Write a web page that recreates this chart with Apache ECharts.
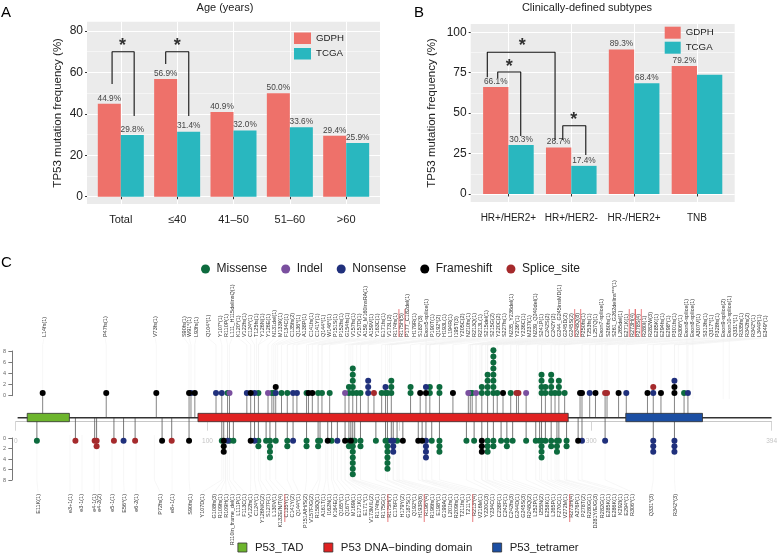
<!DOCTYPE html>
<html>
<head>
<meta charset="utf-8">
<style>
  html, body { margin: 0; padding: 0; background: #fff; }
  #chart { width: 780px; height: 555px; }
</style>
<script src="https://cdn.jsdelivr.net/npm/echarts@6/dist/echarts.min.js"></script>
</head>
<body>
<div id="chart"></div>
<script>
  const ageCategories = ['Total', '≤40', '41–50', '51–60', '>60']
  const ageGdph = [44.9, 56.9, 40.9, 50.0, 29.4]
  const ageTcga = [29.8, 31.4, 32.0, 33.6, 25.9]
  const ageTicks = [0, 20, 40, 60, 80]
  const ageMinorTicks = [10, 30, 50, 70]
  // bracket paths in axis units, star = [x, y]
  const ageBrackets = [
    { path: [[0.845, 54.4], [0.845, 70], [1.237, 70], [1.237, 39]], star: [1.03, 72.8] },
    { path: [[1.797, 64.1], [1.797, 70], [2.206, 70], [2.206, 39]], star: [2.0, 72.8] }
  ]

  const subtypeCategories = ['HR+/HER2+', 'HR+/HER2-', 'HR-/HER2+', 'TNB']
  const subtypeGdph = [66.1, 28.7, 89.3, 79.2]
  const subtypeTcga = [30.3, 17.4, 68.4, 73.8]
  const subtypeTcgaNoLabel = [3]
  const subtypeTicks = [0, 25, 50, 75, 100]
  const subtypeMinorTicks = [12.5, 37.5, 62.5, 87.5]
  const subtypeBrackets = [
    { path: [[0.664, 72.2], [0.664, 87.6], [1.742, 87.6], [1.742, 33.4]], star: [1.221, 91.6] },
    { path: [[0.83, 71.7], [0.83, 75.4], [1.196, 75.4], [1.196, 35.9]], star: [1.013, 78.8] },
    { path: [[1.865, 33.4], [1.865, 42.2], [2.231, 42.2], [2.231, 24.1]], star: [2.04, 45.8] }
  ]

  // lollipops: [residue, stack of types from the backbone outwards]
  // M missense, I indel, N nonsense, F frameshift, S splice site
  const topStacks = [
    [14, 'F'], [47, 'F'], [73, 'F'], [90, 'F'], [91, 'N'], [93, 'F'], [104, 'N'], [107, 'N'], [110, 'M'], [111, 'I'],
    [120, 'N'], [122, 'F'], [124, 'N'], [126, 'M'], [131, 'I'], [133, 'M'], [134, 'M'], [135, 'NF'], [138, 'M'],
    [141, 'M'], [144, 'N'], [146, 'N'], [151, 'M'], [152, 'F'], [154, 'F'], [157, 'M'], [159, 'M'], [163, 'M'],
    [171, 'I'], [173, 'MM'], [175, 'MMMMM'], [177, 'M'], [179, 'M'], [183, 'NNN'], [186, 'S'], [190, 'M'], [192, 'MN'],
    [193, 'M'], [195, 'MMM'], [205, 'MM'], [210, 'F'], [213, 'FN'], [215, 'MM'], [220, 'MM'], [227, 'F'], [235, 'I'],
    [236, 'M'], [237, 'M'], [239, 'I'], [242, 'MM'], [245, 'MMMM'], [248, 'MMMMMMMM'], [250, 'M'], [253, 'F'],
    [257, 'M'], [260, 'S'], [261, 'S'], [265, 'I'], [273, 'MMMM'], [275, 'MM'], [278, 'MMMM'], [280, 'M'], [282, 'MMM'],
    [285, 'M'], [293, 'F'], [294, 'F'], [298, 'N'], [301, 'F'], [306, 'S'], [307, 'S'], [313, 'F'], [317, 'N'],
    [328, 'F'], [331, 'NS'], [335, 'F'], [342, 'FFN'], [347, 'M'], [349, 'N']
  ]
  const bottomStacks = [
    [11, 'M'], [31, 'S'], [41, 'S'], [42, 'SS'], [51, 'S'], [56, 'N'], [62, 'S'], [76, 'F'], [81, 'S'], [90, 'F'],
    [107, 'M'], [108, 'FFF'], [110, 'N'], [111, 'M'], [113, 'M'], [122, 'F'], [124, 'N'], [126, 'MM'], [130, 'M'],
    [132, 'MMMM'], [135, 'M'], [141, 'MM'], [144, 'N'], [151, 'MM'], [157, 'MM'], [158, 'M'], [162, 'F'], [164, 'M'],
    [167, 'N'], [171, 'F'], [173, 'MM'], [174, 'F'], [175, 'MMMMMMM'], [176, 'M'], [179, 'MM'], [187, 'M'], [192, 'M'],
    [193, 'MMMMMM'], [195, 'N'], [196, 'NNN'], [198, 'M'], [201, 'F'], [209, 'F'], [211, 'F'], [213, 'NNNN'], [216, 'M'],
    [220, 'MMM'], [234, 'M'], [238, 'M'], [242, 'FFF'], [245, 'MMM'], [248, 'MM'], [252, 'M'], [255, 'MM'], [258, 'M'],
    [265, 'M'], [270, 'M'], [272, 'M'], [273, 'MMMM'], [275, 'M'], [278, 'MM'], [281, 'MMM'], [282, 'M'], [286, 'MM'],
    [292, 'F'], [294, 'N'], [306, 'N'], [331, 'NNN'], [342, 'NNN']
  ]
  const mutationTypes = [
    { code: 'M', name: 'Missense', color: '#0d6b3e' },
    { code: 'I', name: 'Indel', color: '#7a4f9f' },
    { code: 'N', name: 'Nonsense', color: '#20307c' },
    { code: 'F', name: 'Frameshift', color: '#000000' },
    { code: 'S', name: 'Splice_site', color: '#a52a2c' }
  ]

  const topLabels = [
    'L14fs(1)', 'P47fs(1)', 'V73fs(1)', 'S90fs(1)', 'W91*(1)', 'L93fs(1)', 'Q104*(1)',
    'Y107*(1)', 'R110P(1)', 'L111_H115delinsQ(1)', 'K120*(1)', 'V122fs(1)', 'C124*(1)', 'T125fs(1)', 'Y126N(1)',
    'Y126E(1)', 'N131del(1)', 'M133K(1)', 'F134C(1)', 'C135fs(2)', 'Q136*(1)', 'A138P(1)', 'C141fs(1)', 'C141Y(1)',
    'Q144*(1)', 'W146*(1)', 'P151S(1)', 'P152fs(1)', 'G154fs(1)', 'V157fs(1)', 'V157D(1)', 'A159_M160insRA(1)',
    'A159V(1)', 'Y163C(1)', 'E171fs(1)', 'V173L(2)', 'R174fs(1)', 'R175H(5)', 'P177_C182del(1)', 'H179R(1)', 'S183*(3)',
    'Exon5-splice(1)', 'P190T(1)', 'Q192*(2)', 'H193L(1)', 'L194R(1)', 'I195T(3)', 'Y205C(2)', 'N210fs(1)', 'R213Q(1)',
    'R213L(1)', 'S215del(1)', 'S215G(2)', 'Y220C(2)', 'S227fs(1)', 'N235_Y236del(1)', 'Y236*(1)', 'Y236C(1)', 'M237I(1)',
    'N239_Q240del(1)', 'S241P(1)', 'C242S(2)', 'C242Y(2)', 'G244_G245insMD(1)', 'G245D(2)', 'G245S(2)', 'R248Q(8)',
    'P250fs(1)', 'T253fs(1)', 'L257Q(1)', 'Exon7-splice(1)', 'S260fs(1)', 'S261_G262delins***(1)', 'L265del(1)',
    'E271K(1)', 'R273H(4)', 'P278S(4)', 'R280I(1)', 'R282W(3)', 'E285K(1)', 'E294fs(1)', 'E298*(1)', 'P301fs(1)',
    'R306*(1)', 'Exon8-splice(1)', 'Exon8-splice(1)', 'A307V(1)', 'S313fs(1)', 'Q317*(1)', 'P328fs(1)',
    'Exon9-splice(2)', 'Exon10-splice(1)', 'Q331*(1)', 'R335fs(1)', 'R342fs(2)', 'R342*(1)', 'L344P(1)', 'E349*(1)'
  ]
  const topHotLabels = ['R175H(5)', 'R248Q(8)', 'R273H(4)', 'P278S(4)']
  const topLooseSlots = [14.7, 46.4, 72.4, 87.4, 90, 93.6, 99.9]

  const bottomLabels = [
    'E11K(1)', 'e3+1(1)', 'e3-1(1)', 'e4-1(1)', 'e4-2(2)', 'e5-1(1)', 'E56*(1)', 'e6-2(1)', 'P72fs(1)', 'e8+1(1)',
    'S90fs(1)', 'Y107D(1)',
    'G108fs(3)', 'R109fs(1)', 'R109H(1)', 'R110in_frame_del(1)', 'L111P(1)', 'F113C(1)', 'V122fs(1)', 'C124*(1)',
    'Y126N/C(2)', 'S127F(1)', 'L130V(1)', 'K132E/N/T(4)', 'C135Y(1)', 'C141Y(2)', 'Q144*(1)', 'P151A/H/S(2)',
    'V157F/G(2)', 'R158Q(1)', 'A161T(1)', 'I162N(1)', 'K164E(1)', 'Q165*(1)', 'Q167*(1)', 'M169I(1)', 'E171K(1)',
    'E171*(1)', 'V173M/L(2)', 'R174fs(1)', 'R175G(1)', 'R175H(7)', 'C176F(1)', 'H179Y(2)', 'G187S(1)', 'Q192*(1)',
    'H193R(6)', 'R196*(4)', 'R196fs(1)', 'E198*(1)', 'G199A(1)', 'L201fs(1)', 'R209fs(1)', 'T211fs(1)', 'T211*(1)',
    'R213*(4)', 'V216M(1)', 'Y220C(3)', 'Y234C(1)', 'C238F(1)', 'C242F(1)', 'C242fs(3)', 'G244D(1)', 'G245S(3)',
    'R248Q(2)', 'L252P(1)', 'I255N(2)', 'E258K(1)', 'L265P(1)', 'F270C(1)', 'V272M(1)', 'R273H(4)', 'A276P(1)',
    'P278T(2)', 'R280G(1)', 'D281Y/E/G(3)', 'R282G(1)', 'E285K(1)', 'E286K(1)', 'K292I(1)', 'E294*(1)', 'R306*(1)',
    'Q331*(3)', 'R342*(3)'
  ]
  const bottomHotLabels = ['C135Y(1)', 'R175H(7)', 'R196*(4)', 'R213*(4)', 'R273H(4)']
  const bottomLooseSlots = [11.6, 28.2, 34.4, 40.7, 43.4, 50, 56.3, 62.5, 75, 81.2, 90.5, 96.8]
  const bottomTailSlots = [330, 342.5]

  const proteinTicks = [0, 100, 200, 300, 394]
  const scaleTicks = [0, 2, 4, 6, 8]
  const domains = [
    { name: 'P53_TAD', start: 6, end: 28, color: '#6db52d' },
    { name: 'P53 DNA−binding domain', start: 95, end: 288, color: '#e02222' },
    { name: 'P53_tetramer', start: 318, end: 358, color: '#1c4fa3' }
  ]

  const font = 'Liberation Sans'
  const gdphColor = '#ee716a'
  const tcgaColor = '#29b7bf'
  const grids = [], xAxes = [], yAxes = [], series = []

  function addBarPanel(cfg) {
    const g = grids.length
    grids.push({ left: cfg.left, top: cfg.top, width: cfg.width, height: cfg.height, show: true, backgroundColor: '#ebebeb', borderWidth: 0 })
    const slots = cfg.categories.map((c, i) => i + 1)
    xAxes.push({
      gridIndex: g, type: 'value', min: 0.4, max: cfg.categories.length + 0.6,
      axisLine: { show: false },
      axisTick: { customValues: slots, length: 2.5, lineStyle: { color: '#333' } },
      axisLabel: { customValues: slots, margin: cfg.xMargin, fontSize: cfg.xFont, color: '#222', formatter: v => cfg.categories[v - 1] },
      splitLine: { show: true, lineStyle: { color: '#fff', width: 1 } }
    })
    const yMain = yAxes.length
    yAxes.push({
      gridIndex: g, type: 'value', min: cfg.yMin, max: cfg.yMax,
      name: 'TP53 mutation frequency (%)', nameLocation: 'middle', nameGap: cfg.nameGap, nameMoveOverlap: false,
      nameTextStyle: { fontSize: 11.5, color: '#222' },
      axisLine: { show: false },
      axisTick: { customValues: cfg.ticks, length: 2, lineStyle: { color: '#333' } },
      axisLabel: { customValues: cfg.ticks, margin: 4, fontSize: 12, color: '#222' },
      splitLine: { show: true, lineStyle: { color: '#fff', width: 1 } }
    })
    // ggplot minor grid
    yAxes.push({
      gridIndex: g, type: 'value', min: cfg.yMin, max: cfg.yMax,
      axisLine: { show: false },
      axisTick: { show: false, customValues: cfg.minorTicks },
      axisLabel: { show: false },
      splitLine: { show: true, lineStyle: { color: '#fff', width: 0.5 } }
    })
    const barLabel = {
      show: true, position: 'top', distance: 1.5, fontSize: 8.3, color: '#444',
      formatter: p => p.value[1].toFixed(1) + '%'
    }
    const barSeries = (name, color, values, noLabel) => ({
      name, type: 'bar', xAxisIndex: g, yAxisIndex: yMain, barWidth: cfg.barWidth, barGap: 0, z: 3,
      itemStyle: { color }, label: barLabel,
      data: values.map((v, i) => noLabel && noLabel.includes(i)
        ? { value: [i + 1, v], label: { show: false } }
        : [i + 1, v])
    })
    series.push(barSeries('GDPH', gdphColor, cfg.gdph), barSeries('TCGA', tcgaColor, cfg.tcga, cfg.noLabel))
    cfg.brackets.forEach(b => {
      series.push({
        type: 'line', xAxisIndex: g, yAxisIndex: yMain, data: b.path, symbol: 'none', z: 5,
        lineStyle: { color: '#111', width: 1.1 }, silent: true
      })
      series.push({
        type: 'scatter', xAxisIndex: g, yAxisIndex: yMain, data: [b.star], symbolSize: 1, z: 6, silent: true,
        itemStyle: { color: 'transparent' },
        label: { show: true, position: 'inside', formatter: '*', fontSize: 18, fontWeight: 'bold', color: '#000' }
      })
    })
  }

  addBarPanel({
    left: 87, top: 21.7, width: 293, height: 182.3, yMin: -3.5, yMax: 84.5, nameGap: 23, xMargin: 10, xFont: 11, barWidth: 23,
    categories: ageCategories, gdph: ageGdph, tcga: ageTcga, ticks: ageTicks, minorTicks: ageMinorTicks, brackets: ageBrackets
  })
  addBarPanel({
    left: 470.7, top: 24, width: 264, height: 178, yMin: -4.95, yMax: 105.1, nameGap: 33, xMargin: 11, xFont: 10, barWidth: 25.3,
    categories: subtypeCategories, gdph: subtypeGdph, tcga: subtypeTcga, noLabel: subtypeTcgaNoLabel, ticks: subtypeTicks,
    minorTicks: subtypeMinorTicks, brackets: subtypeBrackets
  })

  // residue axis shared by the whole lollipop panel
  const trackLeft = 15.7, trackWidth = 758.9
  function hiddenX(g) {
    return { gridIndex: g, type: 'value', min: 0, max: 394, show: false }
  }
  function labelSlot(list, loose, start, i, tail) {
    if (i < loose.length) return loose[i]
    if (tail && i >= list.length - tail.length) return tail[i - (list.length - tail.length)]
    return start + (i - loose.length) * 3.147
  }
  function residueOf(text, fallback) {
    const m = text.match(/^[A-Z](\d+)/)
    return m ? +m[1] : fallback
  }

  function addLollipops(cfg) {
    const g = grids.length
    grids.push({ left: trackLeft, top: cfg.top, width: trackWidth, height: cfg.height })
    xAxes.push(hiddenX(g))
    yAxes.push({ gridIndex: g, type: 'value', min: cfg.yMin, max: cfg.yMax, inverse: cfg.inverse, show: false })
    const yIndex = yAxes.length - 1
    const slots = cfg.labels.map((t, i) => labelSlot(cfg.labels, cfg.loose, cfg.slotStart, i, cfg.tail))

    // faint leaders running from the residue out to its label
    series.push({
      type: 'custom', xAxisIndex: g, yAxisIndex: yIndex, silent: true, z: 1,
      data: cfg.labels.map((t, i) => [residueOf(t, slots[i]), slots[i]]),
      renderItem: (p, api) => {
        const a = api.coord([api.value(0), 0])
        const b = api.coord([api.value(0), cfg.fanStart])
        const c = api.coord([api.value(1), cfg.fanEnd])
        return {
          type: 'polyline', shape: { points: [a, b, c] },
          style: { stroke: '#efefef', lineWidth: 0.5, fill: null }
        }
      }
    })
    // stems
    series.push({
      type: 'custom', xAxisIndex: g, yAxisIndex: yIndex, silent: true, z: 2,
      data: cfg.stacks.map(s => [s[0], s[1].length]),
      renderItem: (p, api) => {
        const a = api.coord([api.value(0), cfg.yMin])
        const b = api.coord([api.value(0), api.value(1)])
        return {
          type: 'line', shape: { x1: a[0], y1: a[1], x2: b[0], y2: b[1] },
          style: { stroke: cfg.stemColor, lineWidth: cfg.stemWidth }
        }
      }
    })
    // one circle per mutation
    mutationTypes.forEach(t => {
      const points = []
      cfg.stacks.forEach(s => {
        s[1].split('').forEach((code, level) => {
          if (code === t.code) points.push([s[0], level + 1])
        })
      })
      series.push({
        name: t.name, type: 'scatter', xAxisIndex: g, yAxisIndex: yIndex, symbolSize: 6, z: 4, silent: true,
        itemStyle: { color: t.color, opacity: 1 }, data: points
      })
    })
    // rotated mutation names
    series.push({
      type: 'custom', xAxisIndex: g, yAxisIndex: yIndex, silent: true, z: 4,
      data: slots.map(s => [s, cfg.labelLevel]),
      renderItem: (p, api) => {
        const text = cfg.labels[p.dataIndex]
        const at = api.coord([api.value(0), api.value(1)])
        const children = [{
          type: 'text', x: at[0], y: at[1], rotation: Math.PI / 2,
          style: { text, fontSize: 5.5, fontFamily: font, fill: '#333', align: cfg.inverse ? 'right' : 'left', verticalAlign: 'middle' }
        }]
        if (cfg.hot.includes(text)) {
          const dir = cfg.inverse ? 1 : -1
          const sides = cfg.inverse ? [-2] : [-3, 3]
          sides.forEach(dx => children.push({
            type: 'line', shape: { x1: at[0] + dx, y1: at[1], x2: at[0] + dx, y2: at[1] + dir * 28 },
            style: { stroke: '#e2585c', lineWidth: 0.8 }
          }))
        }
        return { type: 'group', children }
      }
    })
  }

  addLollipops({
    top: 250, height: 167.7, yMin: -3.05, yMax: 24.44, inverse: false,
    stacks: topStacks, labels: topLabels, loose: topLooseSlots, slotStart: 106.1, hot: topHotLabels,
    fanStart: 8.9, fanEnd: 10, labelLevel: 10.17, stemColor: '#777', stemWidth: 0.9
  })
  addLollipops({
    top: 417.7, height: 76.3, yMin: -3.1, yMax: 10.52, inverse: true,
    stacks: bottomStacks, labels: bottomLabels, loose: bottomLooseSlots, slotStart: 103, hot: bottomHotLabels, tail: bottomTailSlots,
    fanStart: 8, fanEnd: 10.2, labelLevel: 10.52, stemColor: '#555', stemWidth: 0.8
  })

  // protein track: residue axis, backbone and domains
  const trackGrid = grids.length
  grids.push({ left: trackLeft, top: 405, width: trackWidth, height: 16.7 })
  xAxes.push({
    gridIndex: trackGrid, type: 'value', min: 0, max: 394,
    axisLine: { lineStyle: { color: '#c8c8c8', width: 1 } },
    axisTick: { customValues: proteinTicks, length: 9, lineStyle: { color: '#d5d5d5' } },
    axisLabel: { customValues: proteinTicks, margin: 16, fontSize: 6.5, color: '#c4c4c4' },
    splitLine: { show: false }
  })
  yAxes.push({ gridIndex: trackGrid, type: 'value', min: 0, max: 1, show: false })
  const trackY = yAxes.length - 1
  series.push({
    type: 'custom', xAxisIndex: trackGrid, yAxisIndex: trackY, silent: true, z: 6, data: [[1, 394]],
    renderItem: (p, api) => {
      const a = api.coord([api.value(0), 0.24])
      const b = api.coord([api.value(1), 0.24])
      return { type: 'line', shape: { x1: a[0], y1: a[1], x2: b[0], y2: b[1] }, style: { stroke: '#333', lineWidth: 1.4 } }
    }
  })
  domains.forEach(d => {
    series.push({
      name: d.name, type: 'custom', xAxisIndex: trackGrid, yAxisIndex: trackY, silent: true, z: 7,
      itemStyle: { color: d.color, borderColor: '#333', borderWidth: 0.8 },
      data: [[d.start, d.end]],
      renderItem: (p, api) => {
        const a = api.coord([api.value(0), 0.5])
        const b = api.coord([api.value(1), 0])
        return {
          type: 'rect', shape: { x: a[0], y: a[1], width: b[0] - a[0], height: b[1] - a[1] },
          style: { fill: d.color, stroke: '#333', lineWidth: 0.8 }
        }
      }
    })
  })

  // scale bars on the left of the lollipop panel
  function addScale(top, height, inverse) {
    const g = grids.length
    grids.push({ left: 11.7, top, width: 1, height })
    xAxes.push({ gridIndex: g, type: 'value', min: 0, max: 1, show: false })
    yAxes.push({
      gridIndex: g, type: 'value', min: 0, max: 8, inverse,
      axisLine: { show: true, lineStyle: { color: '#555', width: 0.8 } },
      axisTick: { customValues: scaleTicks, length: 3.7, lineStyle: { color: '#555', width: 0.8 } },
      axisLabel: { customValues: scaleTicks, margin: 6, fontSize: 5.5, color: '#666' },
      splitLine: { show: false }
    })
  }
  addScale(351, 44.7, false)
  addScale(438, 42, true)

  const panelLetter = (text, left, top) => ({ text, left, top, padding: 0, textStyle: { fontSize: 15, fontWeight: 'normal', color: '#000', fontFamily: font } })
  const panelTitle = (text, left, top) => ({ text, left, top, padding: 0, textAlign: 'center', textStyle: { fontSize: 11, fontWeight: 'normal', color: '#222', fontFamily: font } })

  const barLegend = (left, top, itemWidth, itemHeight, itemGap) => ({
    left, top, padding: 0, orient: 'vertical', icon: 'rect', itemWidth, itemHeight, itemGap,
    data: ['GDPH', 'TCGA'], textStyle: { fontSize: 9.7, color: '#222' }, selectedMode: false
  })

  const chart = echarts.init(document.getElementById('chart'), null, { renderer: 'canvas' })
  chart.setOption({
    animation: false,
    textStyle: { fontFamily: font },
    title: [
      panelLetter('A', 1, 5), panelLetter('B', 414, 5), panelLetter('C', 1, 255),
      panelTitle('Age (years)', 225, 2.5), panelTitle('Clinically-defined subtypes', 587, 2.5)
    ],
    legend: [
      barLegend(294, 32.5, 17, 11.5, 4),
      barLegend(664.7, 26.7, 16, 12, 3),
      {
        left: 201, top: 263, padding: 0, icon: 'circle', itemWidth: 12, itemHeight: 9, itemGap: 14, selectedMode: false,
        itemStyle: { opacity: 1 },
        data: mutationTypes.map(t => t.name), textStyle: { fontSize: 12, color: '#222' }
      },
      {
        left: 237.5, top: 542, padding: 0, icon: 'rect', itemWidth: 9, itemHeight: 9, itemGap: 20, selectedMode: false,
        itemStyle: { borderColor: '#333', borderWidth: 0.8 },
        data: domains.map(d => d.name), textStyle: { fontSize: 11.4, color: '#222', padding: [0, 0, 0, 3] }
      }
    ],
    grid: grids,
    xAxis: xAxes,
    yAxis: yAxes,
    series
  })
</script>
</body>
</html>
